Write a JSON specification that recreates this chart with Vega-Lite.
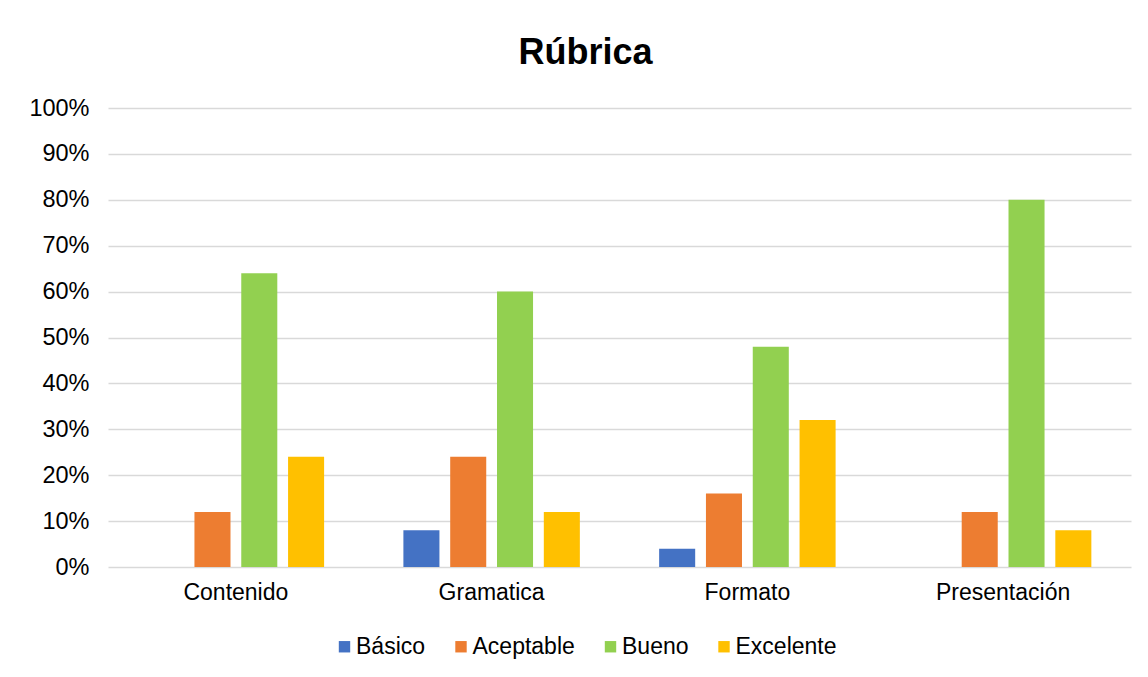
{
  "$schema": "https://vega.github.io/schema/vega-lite/v6.json",
  "width": 1023,
  "height": 459,
  "autosize": {"type": "none"},
  "padding": {"left": 108, "top": 108, "right": 17, "bottom": 110},
  "background": "white",
  "title": {
    "text": "Rúbrica",
    "font": "Liberation Sans",
    "fontSize": 36,
    "fontWeight": "bold",
    "color": "#000000",
    "anchor": "middle",
    "dx": -34,
    "dy": 44,
    "baseline": "alphabetic",
    "offset": 40
  },
  "data": {
    "values": [
      {"criterio": "Contenido", "nivel": "Básico", "valor": 0},
      {"criterio": "Contenido", "nivel": "Aceptable", "valor": 0.12},
      {"criterio": "Contenido", "nivel": "Bueno", "valor": 0.64},
      {"criterio": "Contenido", "nivel": "Excelente", "valor": 0.24},
      {"criterio": "Gramatica", "nivel": "Básico", "valor": 0.08},
      {"criterio": "Gramatica", "nivel": "Aceptable", "valor": 0.24},
      {"criterio": "Gramatica", "nivel": "Bueno", "valor": 0.60},
      {"criterio": "Gramatica", "nivel": "Excelente", "valor": 0.12},
      {"criterio": "Formato", "nivel": "Básico", "valor": 0.04},
      {"criterio": "Formato", "nivel": "Aceptable", "valor": 0.16},
      {"criterio": "Formato", "nivel": "Bueno", "valor": 0.48},
      {"criterio": "Formato", "nivel": "Excelente", "valor": 0.32},
      {"criterio": "Presentación", "nivel": "Básico", "valor": 0},
      {"criterio": "Presentación", "nivel": "Aceptable", "valor": 0.12},
      {"criterio": "Presentación", "nivel": "Bueno", "valor": 0.80},
      {"criterio": "Presentación", "nivel": "Excelente", "valor": 0.08}
    ]
  },
  "mark": {"type": "bar"},
  "encoding": {
    "x": {
      "field": "criterio",
      "type": "nominal",
      "sort": ["Contenido", "Gramatica", "Formato", "Presentación"],
      "scale": {"paddingInner": 0.31, "paddingOuter": 0.155},
      "axis": {
        "title": null,
        "labelAngle": 0,
        "labelFont": "Liberation Sans",
        "labelFontSize": 23,
        "labelColor": "#000000",
        "labelPadding": 14,
        "ticks": false,
        "domain": false,
        "grid": false
      }
    },
    "xOffset": {
      "field": "nivel",
      "type": "nominal",
      "sort": ["Básico", "Aceptable", "Bueno", "Excelente"],
      "scale": {"paddingInner": 0.23, "paddingOuter": 0}
    },
    "y": {
      "field": "valor",
      "type": "quantitative",
      "scale": {"domain": [0, 1], "nice": false},
      "axis": {
        "title": null,
        "format": ".0%",
        "values": [0, 0.1, 0.2, 0.3, 0.4, 0.5, 0.6, 0.7, 0.8, 0.9, 1],
        "labelFont": "Liberation Sans",
        "labelFontSize": 23.5,
        "labelColor": "#000000",
        "labelPadding": 19,
        "ticks": false,
        "domain": false,
        "grid": true,
        "gridColor": "#d9d9d9",
        "gridWidth": 1.5
      }
    },
    "color": {
      "field": "nivel",
      "type": "nominal",
      "sort": ["Básico", "Aceptable", "Bueno", "Excelente"],
      "scale": {
        "domain": ["Básico", "Aceptable", "Bueno", "Excelente"],
        "range": ["#4472C4", "#ED7D31", "#92D050", "#FFC000"]
      },
      "legend": {
        "title": null,
        "orient": "none",
        "direction": "horizontal",
        "legendX": 225,
        "legendY": 527,
        "symbolType": "square",
        "symbolSize": 130,
        "symbolStrokeWidth": 0,
        "labelFont": "Liberation Sans",
        "labelFontSize": 23,
        "labelColor": "#000000",
        "labelOffset": 0,
        "columnPadding": 23.5
      }
    }
  },
  "config": {
    "view": {"stroke": null}
  }
}
